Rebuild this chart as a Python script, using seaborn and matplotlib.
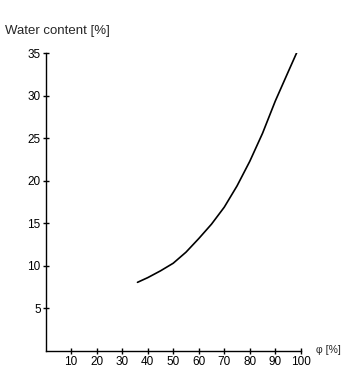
import pandas as pd
import seaborn as sns
import matplotlib.pyplot as plt

# values
phi = [36, 40, 45, 50, 55, 60, 65, 70, 75, 80, 85, 90, 95, 99]
water = [8.05, 8.6, 9.4, 10.3, 11.6, 13.2, 14.9, 16.9, 19.4, 22.3, 25.6, 29.4, 32.8, 35.5]
x_ticks = [10, 20, 30, 40, 50, 60, 70, 80, 90, 100]
y_ticks = [5, 10, 15, 20, 25, 30, 35]

df = pd.DataFrame({"phi": phi, "water": water})

sns.set_style("white")
plt.rcParams['font.family'] = ['Liberation Sans', 'DejaVu Sans']

fig = plt.figure(figsize=(3.51, 3.89), dpi=100)
ax = fig.add_axes([0.130, 0.0985, 0.727, 0.764])

sns.lineplot(data=df, x="phi", y="water", ax=ax, color="black", linewidth=1.2)

ax.set_xlim(0, 100)
ax.set_ylim(0, 35)
ax.set_xticks(x_ticks)
ax.set_yticks(y_ticks)
ax.set_xlabel("")
ax.set_ylabel("")
sns.despine(ax=ax)
for side in ["left", "bottom"]:
    ax.spines[side].set_color("black")
    ax.spines[side].set_linewidth(1)
ax.tick_params(direction="inout", length=5, width=1, labelsize=8.5, pad=1,
               colors="black", left=True, bottom=True)

fig.text(0.014, 0.905, "Water content [%]", fontsize=9.5, ha="left", va="bottom")
fig.text(0.900, 0.099, "φ [%]", fontsize=7.5, ha="left", va="center")

fig.savefig("out.png", dpi=100)
